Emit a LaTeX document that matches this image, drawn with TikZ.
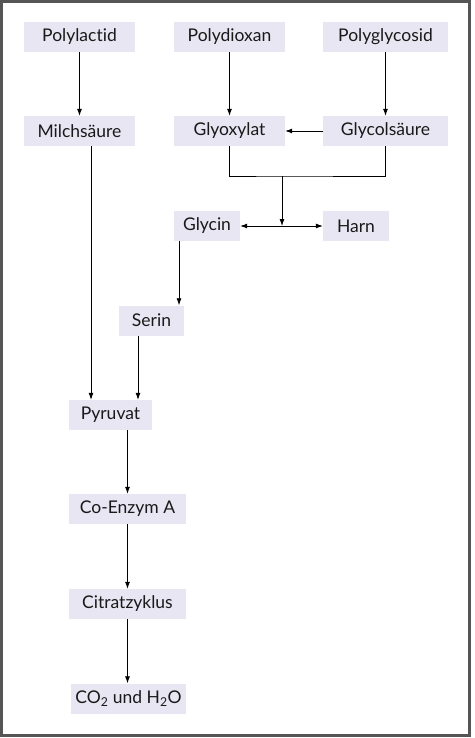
\documentclass[tikz,border=0pt]{standalone}
\usepackage{fontspec}
\setmainfont{Lato}[Ligatures={NoCommon,NoRare,NoDiscretionary}]
\usetikzlibrary{arrows.meta,calc,positioning}
\definecolor{boxfill}{RGB}{232,230,242}
\definecolor{framegray}{RGB}{85,85,85}
\tikzset{
  stoff/.style={fill=boxfill,minimum height=30pt,inner sep=0pt,text=black!90,font=\fontsize{17.5}{19}\selectfont},
  pfeil/.style={-{Latex[length=7pt,width=5pt]},line width=0.8pt}
}
\begin{document}
\begin{tikzpicture}[x=1pt,y=-1pt]
  \useasboundingbox (0,0) rectangle (474,738);
  \draw[framegray,line width=2.6pt] (1.5,1.5) rectangle (469.5,735.5);
  \node[stoff,minimum width=111pt] (polylactid) at (79.5,37) {Polylactid};
  \node[stoff,minimum width=111pt] (polydioxan) at (229.5,37) {Polydioxan};
  \node[stoff,minimum width=125pt] (polyglycosid) at (385.5,37) {Polyglycosid};
  \node[stoff,minimum width=111pt] (milch) at (79.5,131) {Milchsäure};
  \node[stoff,minimum width=111pt] (glyox) at (229.5,131) {Glyoxylat};
  \node[stoff,minimum width=125pt] (glycol) at (385.5,131) {Glycolsäure};
  \node[stoff,minimum width=66pt] (glycin) at (207,226) {Glycin};
  \node[stoff,minimum width=66pt] (harn) at (356,226) {Harn};
  \node[stoff,minimum width=65pt] (serin) at (151.5,320.5) {Serin};
  \node[stoff,minimum width=83pt] (pyruvat) at (110.5,415) {Pyruvat};
  \node[stoff,minimum width=117pt] (coa) at (127.5,509) {Co-Enzym A};
  \node[stoff,minimum width=117pt] (citrat) at (127.5,604) {Citratzyklus};
  \node[stoff,minimum width=115pt] (endprod) at (128.5,698.5) {CO\textsubscript{2} und H\textsubscript{2}O};
  \coordinate (merge) at (282,176);
  \coordinate (fork) at (282,226);
  \coordinate (milchx) at (91,0);
  \coordinate (serinx) at (138,0);
  \coordinate (glycinx) at (179,0);
  \draw[pfeil] (polylactid) -- (milch);
  \draw[pfeil] (polydioxan) -- (glyox);
  \draw[pfeil] (polyglycosid) -- (glycol);
  \draw[pfeil] (glycol) -- (glyox);
  \draw[line width=0.8pt] (glyox.south) |- (merge) -| (glycol.south);
  \draw[pfeil] (merge) -- (fork);
  \draw[pfeil] (fork) -- (glycin);
  \draw[pfeil] (fork) -- (harn);
  \draw[pfeil] (glycin.south -| glycinx) -- (serin.north -| glycinx);
  \draw[pfeil] (milch.south -| milchx) -- (pyruvat.north -| milchx);
  \draw[pfeil] (serin.south -| serinx) -- (pyruvat.north -| serinx);
  \draw[pfeil] (pyruvat.south -| coa) -- (coa);
  \draw[pfeil] (coa) -- (citrat);
  \draw[pfeil] (citrat) -- (endprod.north -| citrat);
\end{tikzpicture}
\end{document}
